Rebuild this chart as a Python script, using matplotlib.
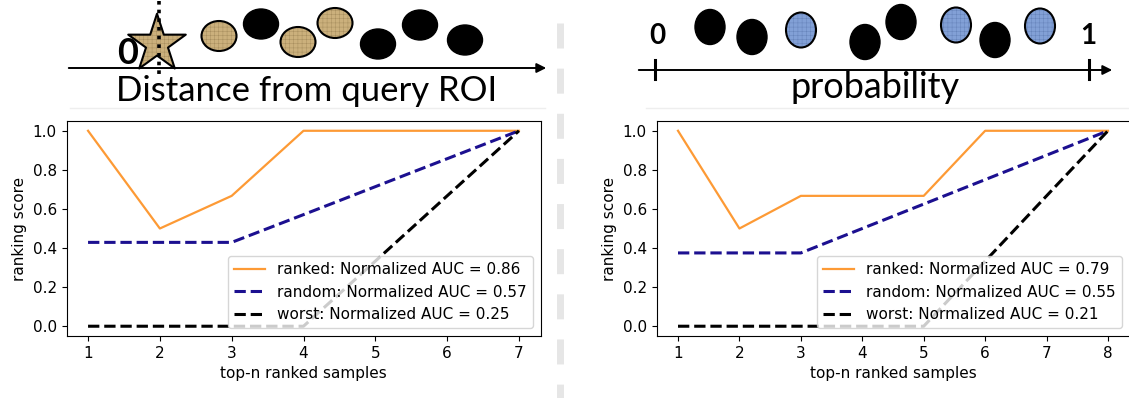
import matplotlib.pyplot as plt
from matplotlib.patches import Ellipse

# ranking curves
left_x = [1, 2, 3, 4, 5, 6, 7]
left_ranked = [1.0, 0.5, 0.667, 1.0, 1.0, 1.0, 1.0]
left_random = [0.429, 0.429, 0.429, 0.571, 0.714, 0.857, 1.0]
left_worst = [0.0, 0.0, 0.0, 0.0, 0.333, 0.667, 1.0]
left_auc = [0.86, 0.57, 0.25]

right_x = [1, 2, 3, 4, 5, 6, 7, 8]
right_ranked = [1.0, 0.5, 0.667, 0.667, 0.667, 1.0, 1.0, 1.0]
right_random = [0.375, 0.375, 0.375, 0.5, 0.625, 0.75, 0.875, 1.0]
right_worst = [0.0, 0.0, 0.0, 0.0, 0.0, 0.333, 0.667, 1.0]
right_auc = [0.79, 0.55, 0.21]

series_names = ['ranked', 'random', 'worst']

W, H = 1129, 398
fig = plt.figure(figsize=(W / 100, H / 100), dpi=100)

TAN = '#cbb07c'
BLUE = '#82a0d6'
plt.rcParams['hatch.linewidth'] = 0.35


def rank_plot(rect, x, ranked, random, worst, auc):
    ax = fig.add_axes(rect)
    ax.plot(x, ranked, color='#fd9a35', lw=1.6,
            label=f'{series_names[0]}: Normalized AUC = {auc[0]:.2f}')
    ax.plot(x, random, '--', color='#1c1090', lw=2.2,
            label=f'{series_names[1]}: Normalized AUC = {auc[1]:.2f}')
    ax.plot(x, worst, '--', color='black', lw=2.2,
            label=f'{series_names[2]}: Normalized AUC = {auc[2]:.2f}')
    ax.set_xticks(x)
    ax.set_yticks([0.0, 0.2, 0.4, 0.6, 0.8, 1.0])
    ax.tick_params(labelsize=11)
    ax.set_xlabel('top-n ranked samples', fontsize=11)
    ax.set_ylabel('ranking score', fontsize=11)
    ax.legend(loc='lower right', fontsize=11)
    return ax


bottom = (H - 336) / H
height = 215 / H
rank_plot([66.5 / W, bottom, 474 / W, height],
          left_x, left_ranked, left_random, left_worst, left_auc)
rank_plot([656.5 / W, bottom, 473 / W, height],
          right_x, right_ranked, right_random, right_worst, right_auc)

# overlay in pixel coordinates for the sketches above the plots
ov = fig.add_axes([0, 0, 1, 1], zorder=-1)
ov.set_xlim(0, W)
ov.set_ylim(H, 0)
ov.axis('off')


def blob(x, y, w, h, color, textured):
    if textured:
        ov.add_patch(Ellipse((x, y), w, h, facecolor=color, edgecolor='#a88f5f' if color == TAN else '#6784bb',
                             hatch='++++', lw=0))
        ov.add_patch(Ellipse((x, y), w, h, facecolor='none', edgecolor='black', lw=1.5))
    else:
        ov.add_patch(Ellipse((x, y), w, h, facecolor='black', edgecolor='black', lw=1))


# left sketch: distance from query
ov.annotate('', xy=(549, 68), xytext=(66, 68),
            arrowprops=dict(arrowstyle='-|>', color='black', lw=1.4, mutation_scale=14))
ov.scatter([157], [44], s=1900, marker='*', facecolor=TAN, edgecolor='#a88f5f',
           hatch='++++', lw=0, zorder=3)
ov.scatter([157], [44], s=1900, marker='*', facecolor='none', edgecolor='black',
           lw=1.5, zorder=4)
ov.plot([159, 159], [1, 74], color='black', lw=2.6, linestyle=(0, (1, 1.4)), zorder=5)
ov.text(128, 53, '0', fontsize=26, fontweight='bold', family='Lato',
        ha='center', va='center')
left_blobs = [(219, 36, True), (261, 24, False), (298, 42, True), (335, 23, True),
              (378, 44, False), (420, 25, False), (465, 40, False)]
for bx, by, tex in left_blobs:
    blob(bx, by, 35, 30, TAN, tex)
ov.text(307, 101, 'Distance from query ROI', fontsize=25, family='Lato',
        ha='center', va='baseline')
ov.plot([70, 545], [108, 108], color='#eeeeee', lw=1)

# right sketch: probability axis
ov.annotate('', xy=(1115, 70), xytext=(636, 70),
            arrowprops=dict(arrowstyle='-|>', color='black', lw=1.4, mutation_scale=14))
for tx in [655, 1089]:
    ov.plot([tx, tx], [60, 79], color='black', lw=2.2)
ov.text(657, 36, '0', fontsize=20, fontweight='bold', family='Lato',
        ha='center', va='center')
ov.text(1088, 36, '1', fontsize=20, fontweight='bold', family='Lato',
        ha='center', va='center')
right_blobs = [(710, 27, False), (752, 37, False), (801, 30, True), (865, 42, False),
               (901, 22, False), (956, 25, True), (995, 40, False), (1040, 26, True)]
for bx, by, tex in right_blobs:
    blob(bx, by, 30, 35, BLUE, tex)
ov.text(875, 98, 'probability', fontsize=26, family='Lato',
        ha='center', va='baseline')
ov.plot([646, 1129], [108, 108], color='#eeeeee', lw=1)

# dashed divider between the two halves
ov.plot([560, 560], [23, H], color='#e6e6e6', lw=5, dashes=(3.6, 2.9))

fig.savefig('out.png', dpi=100)
